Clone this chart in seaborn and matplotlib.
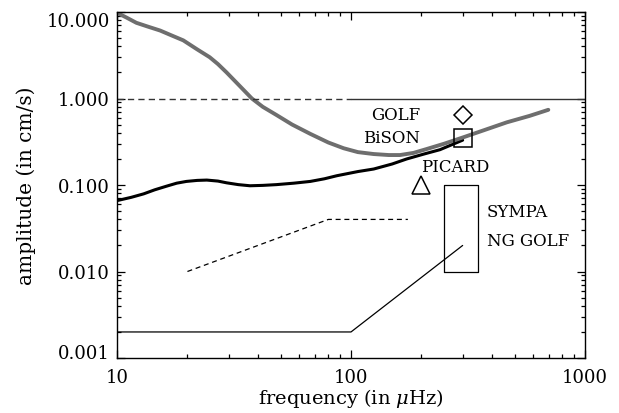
import numpy as np
import pandas as pd
import seaborn as sns
import matplotlib
matplotlib.use('Agg')
import matplotlib.pyplot as plt
from matplotlib.ticker import LogLocator, FixedFormatter, FixedLocator, NullFormatter

# data
# grey curve (upper, noisy)
grey_freq = [10, 11, 12.1, 13.5, 15.3, 17, 19.2, 22, 24.9, 27, 29.4, 33, 37.7, 42, 48, 56, 67, 80,
             93, 107, 125, 145, 162, 185, 210, 250, 302, 370, 463, 580, 697]
grey_amp = [9.8, 8.6, 7.5, 6.8, 6.1, 5.4, 4.7, 3.7, 3.0, 2.5, 2.0, 1.45, 1.0, 0.8, 0.645, 0.5, 0.39, 0.31,
            0.266, 0.24, 0.228, 0.222, 0.222, 0.235, 0.26, 0.3, 0.356, 0.43, 0.53, 0.63, 0.74]

# black curve (lower, noisy)
black_freq = [10, 11.5, 13, 14.5, 16.3, 18, 19.8, 22, 24.2, 27, 29.4, 33, 37, 42, 48, 57, 67, 77,
              87, 107, 125, 150, 173, 205, 240, 300]
black_amp = [0.066, 0.072, 0.079, 0.088, 0.097, 0.105, 0.11, 0.113, 0.114, 0.111, 0.106, 0.101, 0.098,
             0.099, 0.101, 0.105, 0.11, 0.118, 0.128, 0.143, 0.153, 0.175, 0.2, 0.228, 0.256, 0.33]

# unit amplitude level: dashed below 100, solid above
level_dash_freq = [10, 100]
level_solid_freq = [100, 1000]
level_amp = [1, 1]

# dashed broken line
dash_freq = [20, 80, 175]
dash_amp = [0.01, 0.04, 0.04]

# NG GOLF solid broken line
ng_freq = [10, 100, 300]
ng_amp = [0.002, 0.002, 0.02]

# SYMPA box
box_freq = [250, 350]
box_amp = [0.01, 0.1]

# instrument points
golf_pt = (300, 0.65)
bison_pt = (300, 0.35)
picard_pt = (200, 0.1)

# labels
label_text = ['GOLF', 'BiSON', 'PICARD', 'SYMPA', 'NG GOLF']
label_freq = [197, 197, 200, 380, 380]
label_amp = [0.65, 0.35, 0.163, 0.05, 0.0227]
label_ha = ['right', 'right', 'left', 'left', 'left']

ytick_vals = [0.001, 0.01, 0.1, 1, 10]
xtick_vals = [10, 100, 1000]

sns.set_style("ticks")
plt.rcParams['font.family'] = ['DejaVu Serif']
plt.rcParams['mathtext.fontset'] = 'dejavuserif'
plt.rcParams['font.size'] = 12
plt.rcParams['text.color'] = 'black'
plt.rcParams['axes.labelcolor'] = 'black'

fig = plt.figure(figsize=(6.19, 4.14), dpi=100)
ax = fig.add_axes([117 / 619, 55 / 414, 468 / 619, 346 / 414])
ax.set_xscale('log')
ax.set_yscale('log')

sns.lineplot(x=black_freq, y=black_amp, color='black', lw=2.2, ax=ax, sort=False)
sns.lineplot(x=grey_freq, y=grey_amp, color='#6e6e6e', lw=2.8, ax=ax, sort=False)

sns.lineplot(x=level_dash_freq, y=level_amp, color='#333333', lw=1.0, ax=ax, sort=False,
             linestyle=(0, (4.5, 3)))
sns.lineplot(x=level_solid_freq, y=level_amp, color='#333333', lw=1.0, ax=ax, sort=False)
sns.lineplot(x=dash_freq, y=dash_amp, color='black', lw=0.9, ax=ax, sort=False,
             linestyle=(0, (4, 3)))
sns.lineplot(x=ng_freq, y=ng_amp, color='black', lw=0.9, ax=ax, sort=False)

# box as closed path
bx = [box_freq[0], box_freq[1], box_freq[1], box_freq[0], box_freq[0]]
by = [box_amp[0], box_amp[0], box_amp[1], box_amp[1], box_amp[0]]
ax.plot(bx, by, color='black', lw=0.9)

ax.plot(*golf_pt, marker='D', ms=9, mfc='none', mec='black', mew=1.1)
ax.plot(*bison_pt, marker='s', ms=12.5, mfc='none', mec='black', mew=1.1)
ax.plot(*picard_pt, marker='^', ms=13, mfc='none', mec='black', mew=1.1)

for t, fx, fy, ha in zip(label_text, label_freq, label_amp, label_ha):
    ax.text(fx, fy, t, ha=ha, va='center', fontsize=12, color='black')

ax.set_xlim(10, 1000)
ax.set_ylim(0.001, 10)
ax.xaxis.set_major_locator(FixedLocator(xtick_vals))
ax.xaxis.set_major_formatter(FixedFormatter([str(v) for v in xtick_vals]))
ax.xaxis.set_minor_locator(LogLocator(base=10, subs=np.arange(2, 10)))
ax.xaxis.set_minor_formatter(NullFormatter())
ax.yaxis.set_major_locator(FixedLocator(ytick_vals))
ax.yaxis.set_major_formatter(FixedFormatter(['%.3f' % v for v in ytick_vals]))
ax.yaxis.set_minor_locator(LogLocator(base=10, subs=np.arange(2, 10)))
ax.yaxis.set_minor_formatter(NullFormatter())

ax.tick_params(which='both', direction='in', top=True, right=True, width=0.9, colors='black',
               labelsize=13)
ax.tick_params(which='major', length=6)
ax.tick_params(which='minor', length=3)
ax.tick_params(axis='x', which='major', pad=7)
ax.tick_params(axis='y', which='major', pad=5)
for s in ax.spines.values():
    s.set_linewidth(1.0)
    s.set_color('black')

# end labels sit inside the axis range as in the original
ylabels = ax.get_yticklabels()
ylabels[0].set_va('baseline')
ylabels[-1].set_va('top')

ax.set_xlabel(r'frequency (in $\mu$Hz)', fontsize=14, labelpad=0.5)
ax.set_ylabel('amplitude (in cm/s)', fontsize=14.5, labelpad=8)

fig.savefig('out.png', dpi=100)
